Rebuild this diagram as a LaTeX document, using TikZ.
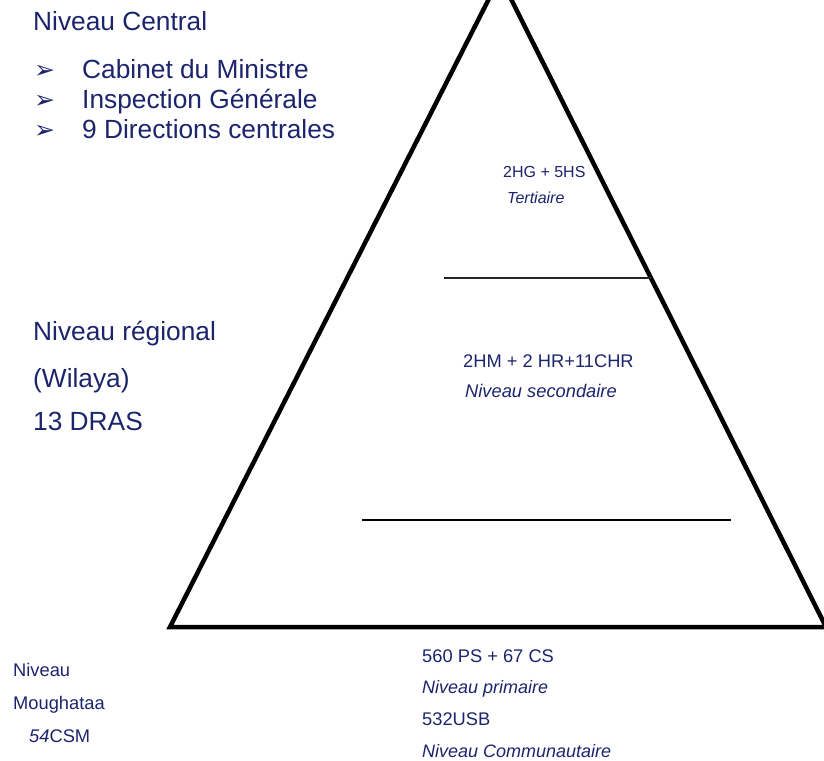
\documentclass[tikz,border=0pt]{standalone}
\usepackage{fontspec}
\setmainfont{Liberation Sans}
\newfontfamily\dejavu{DejaVu Sans}
\definecolor{navy}{RGB}{28,36,108}
\begin{document}
\begin{tikzpicture}[x=1pt,y=-1pt,
  lbl/.style={anchor=base west,inner sep=0pt,text=navy},
  big/.style={lbl,font=\fontsize{26.3}{28}\selectfont},
  mid/.style={lbl,font=\fontsize{18.3}{20}\selectfont},
  small/.style={lbl,font=\fontsize{16}{18}\selectfont},
  bul/.style={anchor=base west,inner sep=0pt,text=navy,font=\dejavu\fontsize{25}{26}\selectfont},
  tri/.style={draw=black,line width=4.5pt,line join=miter},
  sep/.style={draw=black,line width=2pt}]
\useasboundingbox (0,0) rectangle (824,760);
% pyramid
\coordinate (apex) at (500,-23);
\coordinate (bl) at (170,627);
\coordinate (br) at (826,627);
\draw[tri] (bl) -- (apex) -- (br) -- cycle;
\coordinate (s1a) at (444,278);
\coordinate (s1b) at (651,278);
\draw[sep,line width=1.6pt,draw=black!85] (s1a) -- (s1b);
\coordinate (s2a) at (362,520);
\coordinate (s2b) at (731,520);
\draw[sep] (s2a) -- (s2b);
% central level
\node[big] (nc) at (33,31) {Niveau Central};
\node[bul] (b1) at (34,78) {➢};
\node[bul] (b2) at (34,108) {➢};
\node[bul] (b3) at (34,138) {➢};
\node[big] (t1) at (82,78) {Cabinet du Ministre};
\node[big] (t2) at (82,108) {Inspection Générale};
\node[big] (t3) at (82,138) {9 Directions centrales};
% regional level
\node[big] (nr) at (33,340) {Niveau régional};
\node[big] (wl) at (33,387) {(Wilaya)};
\node[big] (dr) at (33,430) {13 DRAS};
% moughataa
\node[mid] (nm1) at (13,676) {Niveau};
\node[mid] (nm2) at (13,709) {Moughataa};
\node[mid] (nm3) at (29,742) {\textit{54}CSM};
% inside pyramid
\node[small] (p1) at (503,177) {2HG + 5HS};
\node[small,font=\fontsize{16}{18}\selectfont\itshape] (p2) at (507,203) {Tertiaire};
\node[mid] (p3) at (463,367) {2HM + 2 HR+11CHR};
\node[mid,font=\fontsize{18.3}{20}\selectfont\itshape] (p4) at (465,397) {Niveau secondaire};
% below pyramid
\node[mid] (q1) at (422,662) {560 PS + 67 CS};
\node[mid,font=\fontsize{18}{20}\selectfont\itshape] (q2) at (422,693) {Niveau primaire};
\node[mid] (q3) at (422,725) {532USB};
\node[mid,font=\fontsize{18}{20}\selectfont\itshape] (q4) at (422,757) {Niveau Communautaire};
\end{tikzpicture}
\end{document}
